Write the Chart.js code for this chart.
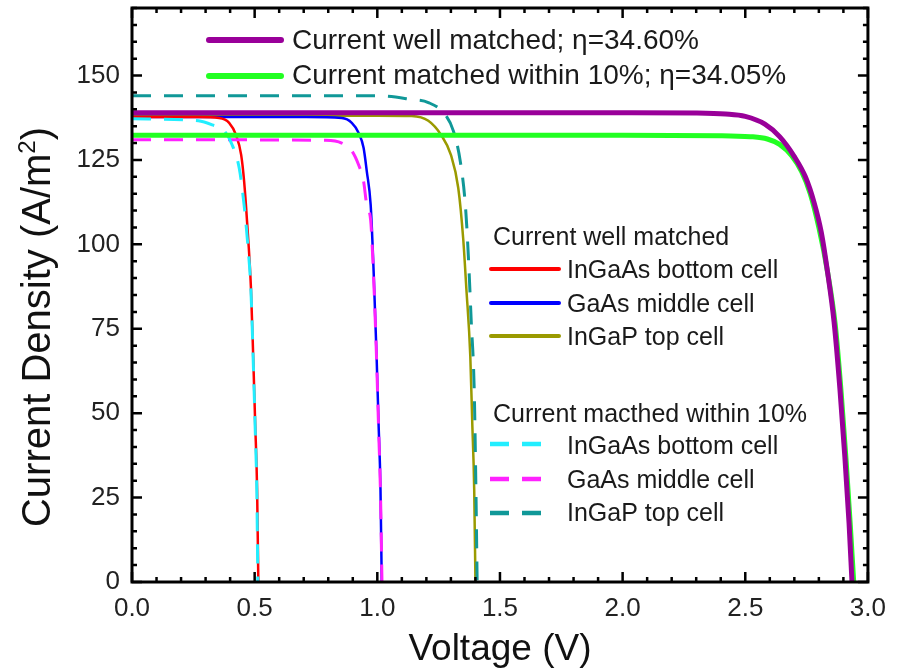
<!DOCTYPE html>
<html>
<head>
<meta charset="utf-8">
<script src="https://cdn.jsdelivr.net/npm/chart.js@4.4.1/dist/chart.umd.min.js"></script>
<style>
html,body{margin:0;padding:0;background:#fff}
</style>
</head>
<body>
<canvas id="ivChart" width="897" height="669"></canvas>
<script>

// tandem (whole cell) curves
const wellTandemV = [0, 1.0, 2.0, 2.3, 2.42, 2.50, 2.58, 2.64, 2.70, 2.745, 2.78, 2.81, 2.835, 2.862, 2.886, 2.906, 2.923, 2.935]
const wellTandemJ = [139, 139, 139, 138.9, 138.6, 137.9, 135.6, 131.9, 126, 120, 112.5, 103.5, 92, 77, 57, 37, 17.5, 0]
const tenTandemV = [0, 1.0, 2.0, 2.4, 2.52, 2.59, 2.64, 2.69, 2.73, 2.765, 2.80, 2.835, 2.867, 2.891, 2.911, 2.928, 2.942]
const tenTandemJ = [132.3, 132.3, 132.3, 132.2, 131.9, 131.2, 129.6, 126.2, 121.5, 115, 105, 92, 76, 56, 36, 17, 0]

// current well matched subcells
const wellBottomV = [0, 0.27, 0.355, 0.396, 0.424, 0.445, 0.457, 0.469, 0.485, 0.494, 0.502, 0.51, 0.515]
const wellBottomJ = [137.7, 137.7, 137.4, 136, 132.4, 126.5, 118.7, 106.8, 86.9, 67, 47.3, 27.4, 0]
const wellMiddleV = [0, 0.71, 0.855, 0.896, 0.924, 0.944, 0.957, 0.973, 0.985, 0.997, 1.005, 1.013, 1.018]
const wellMiddleJ = [137.7, 137.7, 137.4, 136, 133, 128.6, 121.7, 111.6, 92, 67, 47.3, 27.4, 0]
const wellTopV = [0, 1.0, 1.14, 1.208, 1.26, 1.30, 1.33, 1.35, 1.363, 1.379, 1.387, 1.395, 1.40]
const wellTopJ = [138.1, 138.1, 138, 136.6, 132.4, 126.5, 116.7, 101.8, 86.9, 67, 47.3, 27.4, 0]

// current matched within 10% subcells
const tenBottomV = [0, 0.27, 0.327, 0.376, 0.408, 0.437, 0.457, 0.472, 0.485, 0.494, 0.502, 0.509, 0.513]
const tenBottomJ = [137.2, 136.6, 135.4, 133.6, 129.5, 122.6, 111.6, 100, 86, 66, 46, 26, 0]
const tenMiddleV = [0, 0.79, 0.855, 0.896, 0.924, 0.944, 0.957, 0.973, 0.985, 0.997, 1.005, 1.013, 1.019]
const tenMiddleJ = [131, 130.8, 130, 127.7, 123.5, 118.7, 111.6, 107, 90, 66, 46, 26, 0]
const tenTopV = [0, 1.0, 1.14, 1.208, 1.277, 1.31, 1.338, 1.359, 1.371, 1.383, 1.395, 1.402, 1.407]
const tenTopJ = [144, 144, 142.9, 142, 138.4, 133.6, 124.7, 111.6, 96.7, 77, 57, 27.4, 0]

const topLegendText = ['Current well matched; \u03b7=34.60%', 'Current matched within 10%; \u03b7=34.05%']
const groupTitles = ['Current well matched', 'Current macthed within 10%']
const cellNames = ['InGaAs bottom cell', 'GaAs middle cell', 'InGaP top cell']

const FONT = "'Liberation Sans', Arial, sans-serif"

function pts(vs, js){
let out=[]
vs.forEach((v,i)=>{ out.push({x:v, y:js[i]}) })
return out
}

function ds(label, vs, js, color, width, dash, order){
return {
label:label,
data:pts(vs,js),
borderColor:color,
backgroundColor:color,
borderWidth:width,
borderDash:dash,
pointRadius:0,
cubicInterpolationMode:'monotone',
fill:false,
order:order
}
}

const datasets = [
ds(topLegendText[0], wellTandemV, wellTandemJ, '#990099', 5, [], 1),
ds(topLegendText[1], tenTandemV, tenTandemJ, '#22ff22', 5, [], 2),
ds(cellNames[0], tenBottomV, tenBottomJ, '#22eeff', 3, [19,13], 3),
ds(cellNames[1], tenMiddleV, tenMiddleJ, '#ff22ff', 3, [19,13], 4),
ds(cellNames[2], tenTopV, tenTopJ, '#109898', 3, [19,13], 5),
ds(cellNames[0], wellBottomV, wellBottomJ, '#ff0000', 2.5, [], 6),
ds(cellNames[1], wellMiddleV, wellMiddleJ, '#0000ff', 2.5, [], 7),
ds(cellNames[2], wellTopV, wellTopJ, '#9a9a00', 2.5, [], 8)
]

function isMajorX(v){ return Math.abs(v*2 - Math.round(v*2)) < 1e-6 }
function isMajorY(v){ return Math.abs(v % 25) < 1e-6 }

// frame + inward ticks on all four sides
const frameTicks = {
id:'frameTicks',
afterDatasetsDraw(chart){
const ctx = chart.ctx
const a = chart.chartArea
const x = chart.scales.x
const y = chart.scales.y
ctx.save()
ctx.strokeStyle='#000'
ctx.lineWidth=2.5
ctx.beginPath()
x.ticks.forEach(t=>{
const p = x.getPixelForValue(t.value)
const len = isMajorX(t.value) ? 10 : 5
ctx.moveTo(p, a.bottom); ctx.lineTo(p, a.bottom-len)
ctx.moveTo(p, a.top); ctx.lineTo(p, a.top+len)
})
y.ticks.forEach(t=>{
const p = y.getPixelForValue(t.value)
const len = isMajorY(t.value) ? 10 : 5
ctx.moveTo(a.left, p); ctx.lineTo(a.left+len, p)
ctx.moveTo(a.right, p); ctx.lineTo(a.right-len, p)
})
ctx.stroke()
ctx.lineWidth=3
ctx.strokeRect(a.left, a.top, a.right-a.left, a.bottom-a.top)
ctx.restore()
}
}

// legends and y title
const legendsPlugin = {
id:'legendsPlugin',
afterDraw(chart){
const ctx = chart.ctx
const sets = chart.data.datasets
ctx.save()
ctx.textAlign='left'
ctx.textBaseline='alphabetic'
ctx.fillStyle='#1a1a1a'

function sample(d, x1, x2, yy, w){
ctx.save()
ctx.strokeStyle=d.borderColor
ctx.lineWidth=w
ctx.lineCap = d.borderDash.length ? 'butt' : 'round'
ctx.setLineDash(d.borderDash)
ctx.beginPath()
ctx.moveTo(x1,yy); ctx.lineTo(x2,yy)
ctx.stroke()
ctx.restore()
}

// top legend
ctx.font='28px '+FONT
sample(sets[0], 209, 281, 40, 6)
ctx.fillText(topLegendText[0], 292, 49)
sample(sets[1], 209, 281, 76, 6)
ctx.fillText(topLegendText[1], 292, 84)

// well matched subcells
ctx.font='25px '+FONT
ctx.fillText(groupTitles[0], 493, 245)
let rows=[[sets[5],269,278],[sets[6],303,312],[sets[7],336,345]]
rows.forEach((r,i)=>{
sample(r[0], 491, 559, r[1], 4)
ctx.fillText(cellNames[i], 567, r[2])
})

// within 10% subcells
ctx.fillText(groupTitles[1], 493, 422)
rows=[[sets[2],444,454],[sets[3],479,488],[sets[4],513,521]]
rows.forEach((r,i)=>{
sample(r[0], 490, 546, r[1], 4.5)
ctx.fillText(cellNames[i], 567, r[2])
})

// y axis title with superscript
ctx.fillStyle='#111'
ctx.translate(50, 327)
ctx.rotate(-Math.PI/2)
const big='40px '+FONT, small='24px '+FONT
const s1='Current Density (A/m', s2='2', s3=')'
ctx.font=big; const w1=ctx.measureText(s1).width, w3=ctx.measureText(s3).width
ctx.font=small; const w2=ctx.measureText(s2).width
let sx = -(w1+w2+w3)/2
ctx.font=big; ctx.fillText(s1, sx, 0)
ctx.font=small; ctx.fillText(s2, sx+w1, -15)
ctx.font=big; ctx.fillText(s3, sx+w1+w2, 0)
ctx.restore()
}
}

new Chart(document.getElementById('ivChart'),{
type:'line',
data:{datasets:datasets},
options:{
responsive:false,
animation:false,
devicePixelRatio:1,
layout:{padding:{top:8,right:26,left:0,bottom:0}},
plugins:{legend:{display:false},tooltip:{enabled:false}},
scales:{
x:{
type:'linear',
min:0,
max:3,
grid:{display:false,drawTicks:false},
border:{display:false},
ticks:{
stepSize:0.1,
autoSkip:false,
maxRotation:0,
padding:11,
color:'#222',
font:{family:FONT,size:26},
callback:v=>isMajorX(v) ? v.toFixed(1) : ''
},
title:{display:true,text:'Voltage (V)',color:'#111',font:{family:FONT,size:37},padding:{top:0,bottom:-3}},
afterFit:s=>{ s.height=87 }
},
y:{
type:'linear',
min:0,
max:170,
grid:{display:false,drawTicks:false},
border:{display:false},
ticks:{
stepSize:5,
autoSkip:false,
padding:12,
color:'#222',
font:{family:FONT,size:26},
callback:v=>isMajorY(v) ? String(v) : ''
},
afterFit:s=>{ s.width=132; s.paddingTop=0; s.paddingBottom=0 }
}
}
},
plugins:[frameTicks, legendsPlugin]
})

</script>
</body>
</html>
